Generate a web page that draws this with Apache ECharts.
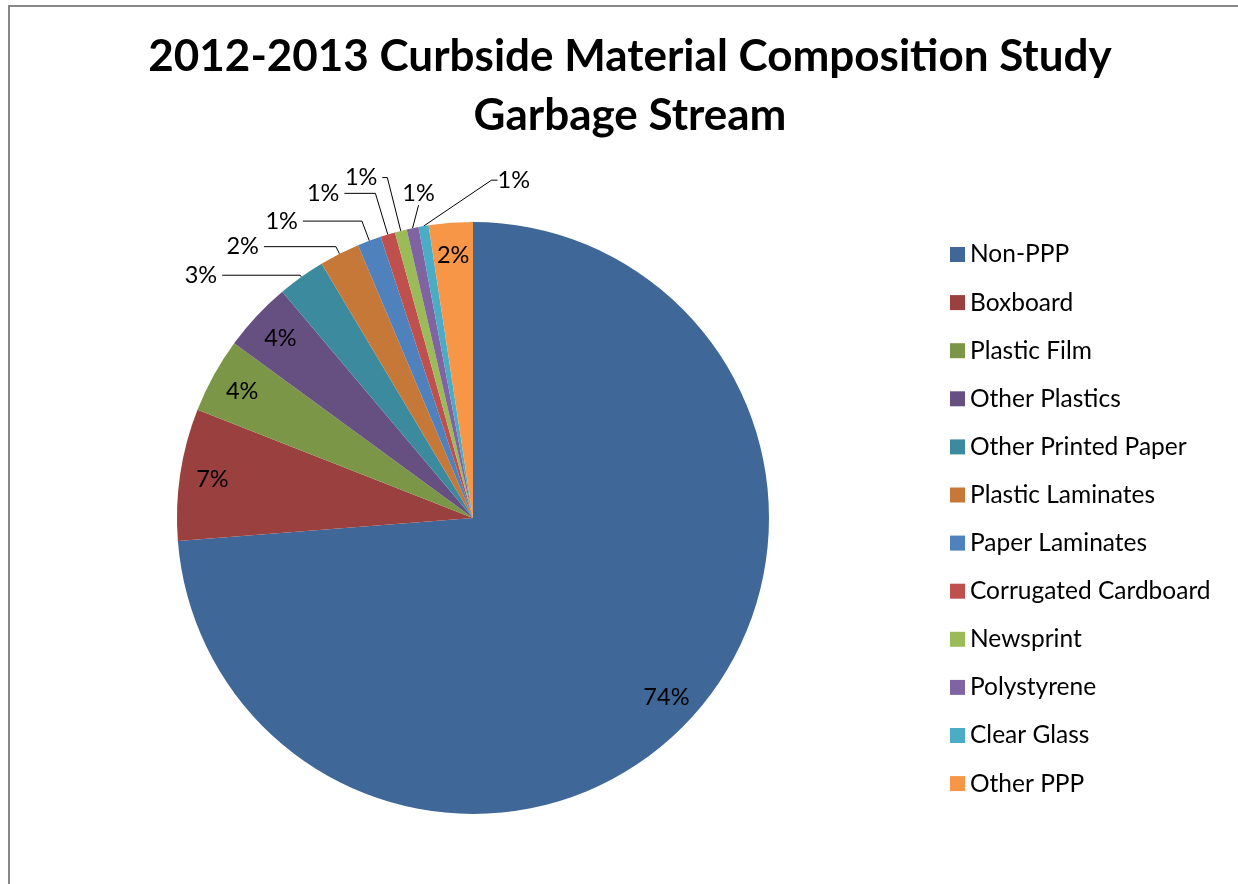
<!DOCTYPE html>
<html><head><meta charset="utf-8">
<script src="https://cdn.jsdelivr.net/npm/echarts@6/dist/echarts.min.js"></script>
<style>html,body{margin:0;padding:0;background:#fff}#c{width:1238px;height:884px}</style>
</head><body><div id="c"></div>
<script>
// ---- data ----
const titleLines = ['2012-2013 Curbside Material Composition Study', 'Garbage Stream'];
const categories = ['Non-PPP', 'Boxboard', 'Plastic Film', 'Other Plastics', 'Other Printed Paper',
  'Plastic Laminates', 'Paper Laminates', 'Corrugated Cardboard', 'Newsprint', 'Polystyrene',
  'Clear Glass', 'Other PPP'];
const shares = [73.8, 7.2, 4.1, 3.8, 2.6, 2.2, 1.3, 0.8, 0.65, 0.65, 0.55, 2.4];

// ---- style ----
const colors = ['#3F6797', '#9A403E', '#7C9647', '#665082', '#3C8A9E', '#C67838',
  '#4F81BD', '#C0504D', '#9BBB59', '#8064A2', '#4BACC6', '#F79646'];
const insideLabelIdx = [0, 1, 2, 3, 11];
const leader = { 4: [2, 78], 5: [8, 72], 6: [21, 59], 7: [43, 31], 8: [55, 5], 9: [22, 0], 10: [10, 6] };
const customPlace = { 9: { dx: 6, dy: -35, align: 'center' }, 10: { dx: 74, dy: -46, align: 'left' } };
const FONT = 'Lato';
const CENTER = [473, 518];
const R = 296;

const fmt = p => Math.round(p.percent) + '%';

const chart = echarts.init(document.getElementById('c'), null, { renderer: 'canvas' });
chart.setOption({
  animation: false,
  backgroundColor: '#fff',
  graphic: [{
    type: 'rect', shape: { x: 9, y: 6, width: 1400, height: 1000 },
    style: { fill: null, stroke: '#878787', lineWidth: 2 }, silent: true
  }],
  title: {
    text: titleLines.join('\n'), left: 625, top: 22, textAlign: 'center',
    textStyle: { fontFamily: FONT, fontWeight: 'bold', fontSize: 44, lineHeight: 59, color: '#000' }
  },
  legend: {
    orient: 'vertical', left: 945, top: 237, itemWidth: 15, itemHeight: 15, itemGap: 23.1,
    icon: 'rect', selectedMode: false, data: categories,
    textStyle: { fontFamily: FONT, fontSize: 24.5, lineHeight: 24, color: '#000' }
  },
  series: [{
    type: 'pie', center: CENTER, radius: [0, R], startAngle: 90, clockwise: true,
    avoidLabelOverlap: false, emphasis: { disabled: true },
    data: categories.map((n, i) => ({
      name: n, value: shares[i], itemStyle: { color: colors[i] },
      label: { show: leader[i] != null },
      labelLine: leader[i] ? { show: true, length: leader[i][0], length2: leader[i][1] } : { show: false }
    })),
    label: { position: 'outside', formatter: fmt, fontFamily: FONT, fontSize: 23.5, color: '#000', distanceToLabelLine: 5 },
    labelLine: { lineStyle: { color: '#000', width: 1 } },
    labelLayout: function (p) {
      const c = customPlace[p.dataIndex];
      if (!c || !p.labelLinePoints) return {};
      const a = p.labelLinePoints[0];
      return { x: a[0] + c.dx, y: a[1] + c.dy, align: c.align, verticalAlign: 'middle' };
    }
  }, {
    type: 'pie', center: CENTER, radius: [225, R], startAngle: 90, clockwise: true,
    silent: true, avoidLabelOverlap: false, emphasis: { disabled: true },
    itemStyle: { color: 'rgba(0,0,0,0)' },
    data: categories.map((n, i) => ({
      name: n, value: shares[i], label: { show: insideLabelIdx.includes(i) }
    })),
    label: { position: 'inside', formatter: fmt, fontFamily: FONT, fontSize: 23.5, color: '#000' },
    labelLine: { show: false }
  }]
});
</script></body></html>
